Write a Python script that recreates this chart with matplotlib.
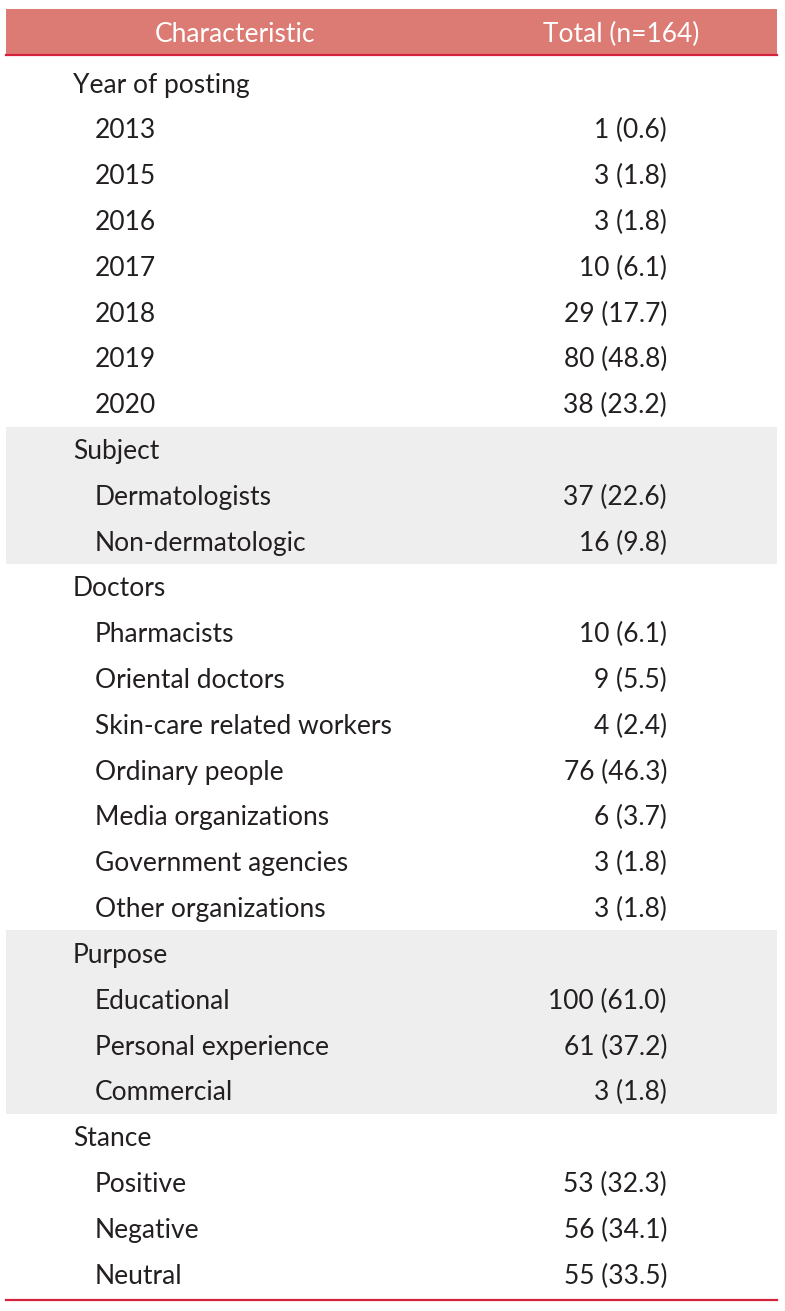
import matplotlib
matplotlib.use("Agg")
import matplotlib.pyplot as plt
from matplotlib.patches import Rectangle

# table content
sections = ["Year of posting", "Subject", "Doctors", "Purpose", "Stance"]
items = [
    ["2013", "2015", "2016", "2017", "2018", "2019", "2020"],
    ["Dermatologists", "Non-dermatologic"],
    ["Pharmacists", "Oriental doctors", "Skin-care related workers", "Ordinary people",
     "Media organizations", "Government agencies", "Other organizations"],
    ["Educational", "Personal experience", "Commercial"],
    ["Positive", "Negative", "Neutral"],
]
counts = [
    [1, 3, 3, 10, 29, 80, 38],
    [37, 16],
    [10, 9, 4, 76, 6, 3, 3],
    [100, 61, 3],
    [53, 56, 55],
]
percents = [
    [0.6, 1.8, 1.8, 6.1, 17.7, 48.8, 23.2],
    [22.6, 9.8],
    [6.1, 5.5, 2.4, 46.3, 3.7, 1.8, 1.8],
    [61.0, 37.2, 1.8],
    [32.3, 34.1, 33.5],
]
shaded = [False, True, False, True, False]
header = ["Characteristic", "Total (n=164)"]

W, H = 785, 1311
fig = plt.figure(figsize=(W / 100, H / 100), dpi=100)
ax = fig.add_axes([0, 0, 1, 1])
ax.set_xlim(0, W)
ax.set_ylim(H, 0)
ax.axis("off")

plt.rcParams["font.family"] = ["Lato", "DejaVu Sans"]
txt = "#231f20"
fs = 19

left, right = 6, 777
row_h = 45.81
first = 83  # centre of first body row
dy = 2      # text sits slightly below the row centre

# header
ax.add_patch(Rectangle((left, 9), right - left, 45, color="#dc7a74", lw=0))
ax.plot([left, right], [55, 55], color="#d4213d", lw=1.6)
ax.text(235, 34, header[0], color="white", fontsize=fs, ha="center", va="center")
ax.text(621, 34, header[1], color="white", fontsize=fs, ha="center", va="center")

k = 0
for sec, its, cs, ps, sh in zip(sections, items, counts, percents, shaded):
    n = len(its) + 1
    y0 = first + k * row_h
    if sh:
        ax.add_patch(Rectangle((left, y0 - row_h / 2), right - left, n * row_h,
                               color="#edeeed", lw=0))
    ax.text(73, y0 + dy, sec, color=txt, fontsize=fs, va="center")
    for i, (it, c, p) in enumerate(zip(its, cs, ps)):
        yc = y0 + (i + 1) * row_h + dy
        ax.text(95, yc, it, color=txt, fontsize=fs, va="center")
        ax.text(667, yc, f"{c} ({p:.1f})", color=txt, fontsize=fs, va="center", ha="right")
    k += n

yb = first + (k - 1) * row_h + 26
ax.plot([left, right], [yb, yb], color="#d4213d", lw=1.6)

fig.savefig("out.png", dpi=100)
